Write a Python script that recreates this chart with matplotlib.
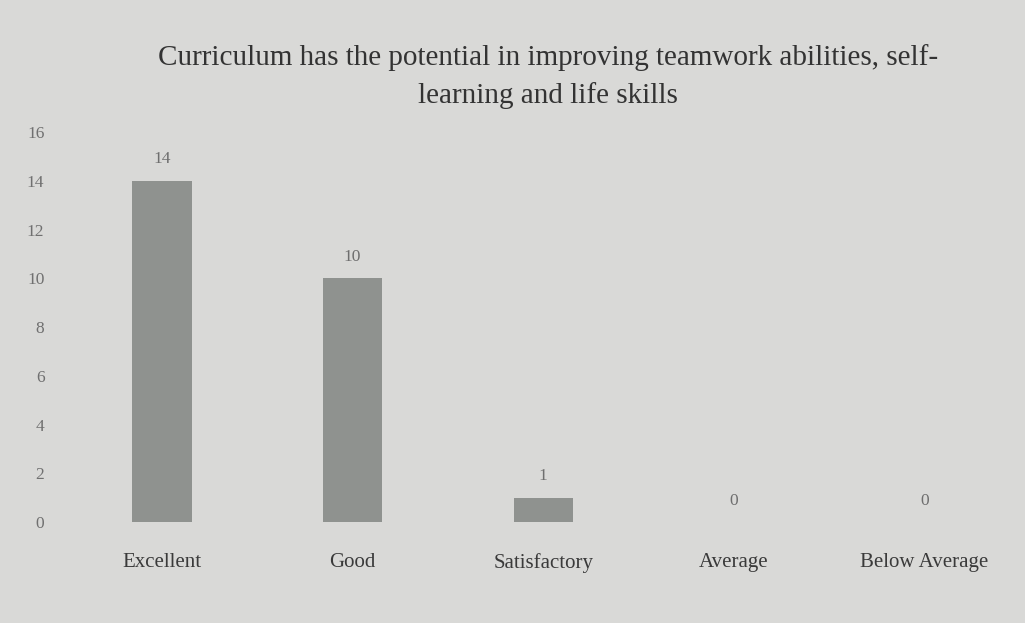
import matplotlib.pyplot as plt

# survey responses
categories = ["Excellent", "Good", "Satisfactory", "Average", "Below Average"]
counts = [14, 10, 1, 0, 0]
yticks = [0, 2, 4, 6, 8, 10, 12, 14, 16]

plt.rcParams['font.family'] = ['Liberation Serif', 'DejaVu Serif']

fig = plt.figure(figsize=(10.25, 6.23), dpi=100)
fig.patch.set_facecolor("#d9d9d7")
ax = fig.add_axes([0.065, 0.162, 0.93, 0.626])
ax.set_facecolor("#d9d9d7")

x = range(len(categories))
bars = ax.bar(x, counts, width=0.31, color="#8f928f")

for xi, c in zip(x, counts):
    ax.text(xi, c + 0.55, str(c), ha="center", va="bottom", fontsize=12.5, color="#6e6e6e")

ax.set_xlim(-0.5, 4.5)
ax.set_ylim(0, 16)
ax.set_yticks(yticks)
ax.set_xticks(list(x))
ax.set_xticklabels(categories, fontsize=15, color="#3a3a3a")
ax.tick_params(axis="y", labelsize=12.5, labelcolor="#707070", length=0, pad=16)
ax.tick_params(axis="x", length=0, pad=22)
for s in ax.spines.values():
    s.set_visible(False)

fig.text(0.535, 0.93, "Curriculum has the potential in improving teamwork abilities, self-\nlearning and life skills",
         ha="center", va="top", fontsize=21, color="#333333", linespacing=1.55)

fig.savefig("out.png", dpi=100, facecolor=fig.get_facecolor())
